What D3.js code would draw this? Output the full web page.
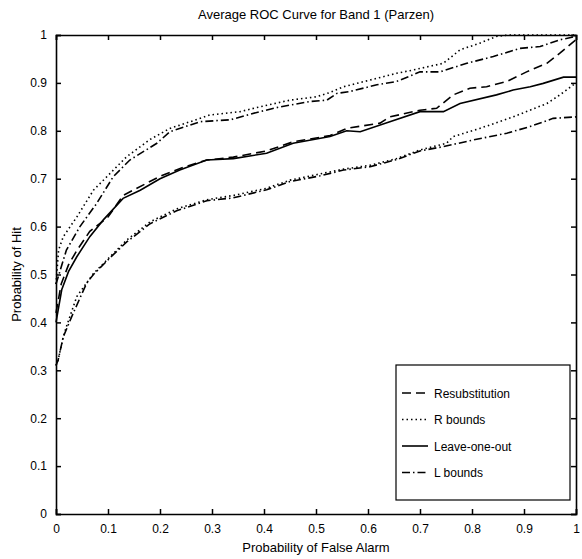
<!DOCTYPE html>
<html lang="en">
<head>
  <meta charset="UTF-8">
  <title>Average ROC Curve for Band 1 (Parzen)</title>
  <script src="https://d3js.org/d3.v7.min.js"></script>
  <style>
    body { margin: 0; background: #fff; }
    svg { display: block; font-family: "Liberation Sans", Arial, sans-serif; }
    .tick text { font-size: 12px; }
  </style>
</head>
<body>
  <svg width="582" height="559"></svg>
  <script>
    // [false alarm, hit] pairs
    const resubstitution = [[0,0.42],[0.01,0.48],[0.024,0.52],[0.04,0.55],[0.065,0.59],[0.1,0.62],[0.129,0.665],[0.15,0.677],[0.2,0.705],[0.24,0.722],[0.29,0.739],[0.341,0.745],[0.405,0.758],[0.456,0.777],[0.527,0.79],[0.559,0.805],[0.623,0.816],[0.642,0.829],[0.70,0.843],[0.732,0.847],[0.764,0.875],[0.796,0.889],[0.828,0.892],[0.867,0.903],[0.905,0.923],[0.944,0.941],[0.969,0.962],[1.0,0.99]];
    const rBoundsUpper = [[0,0.48],[0.005,0.551],[0.014,0.579],[0.04,0.62],[0.072,0.676],[0.104,0.711],[0.136,0.746],[0.181,0.782],[0.219,0.805],[0.258,0.819],[0.296,0.833],[0.354,0.84],[0.392,0.85],[0.45,0.864],[0.501,0.871],[0.527,0.88],[0.553,0.892],[0.604,0.906],[0.655,0.92],[0.687,0.927],[0.745,0.941],[0.777,0.969],[0.815,0.983],[0.847,0.997],[0.87,1.0],[1.0,1.0]];
    const rBoundsLower = [[0,0.31],[0.004,0.321],[0.014,0.37],[0.02,0.391],[0.04,0.454],[0.072,0.502],[0.104,0.537],[0.136,0.572],[0.181,0.61],[0.232,0.637],[0.29,0.656],[0.341,0.665],[0.405,0.68],[0.45,0.697],[0.508,0.71],[0.553,0.72],[0.604,0.728],[0.655,0.742],[0.70,0.76],[0.751,0.774],[0.764,0.788],[0.815,0.805],[0.879,0.829],[0.944,0.857],[0.969,0.875],[1.0,0.90]];
    const leaveOneOut = [[0,0.40],[0.011,0.468],[0.024,0.506],[0.04,0.537],[0.065,0.579],[0.091,0.614],[0.129,0.659],[0.162,0.676],[0.2,0.70],[0.238,0.718],[0.29,0.739],[0.341,0.742],[0.405,0.753],[0.456,0.774],[0.527,0.788],[0.559,0.80],[0.585,0.798],[0.642,0.819],[0.70,0.840],[0.745,0.840],[0.777,0.857],[0.847,0.875],[0.879,0.885],[0.912,0.892],[0.937,0.899],[0.976,0.912],[1.0,0.912]];
    const lBoundsUpper = [[0,0.48],[0.02,0.551],[0.046,0.60],[0.078,0.648],[0.11,0.704],[0.142,0.739],[0.194,0.774],[0.219,0.798],[0.277,0.819],[0.335,0.823],[0.392,0.84],[0.431,0.85],[0.488,0.861],[0.521,0.864],[0.54,0.878],[0.565,0.882],[0.617,0.896],[0.655,0.903],[0.70,0.923],[0.738,0.923],[0.79,0.941],[0.841,0.955],[0.892,0.972],[0.931,0.976],[0.969,0.99],[1.0,0.997]];
    const lBoundsLower = [[0,0.31],[0.004,0.321],[0.014,0.37],[0.033,0.419],[0.059,0.482],[0.072,0.50],[0.104,0.535],[0.136,0.568],[0.181,0.606],[0.232,0.633],[0.29,0.654],[0.341,0.66],[0.405,0.677],[0.45,0.694],[0.508,0.706],[0.553,0.718],[0.604,0.725],[0.655,0.74],[0.70,0.758],[0.745,0.767],[0.803,0.781],[0.867,0.795],[0.912,0.809],[0.956,0.826],[1.0,0.829]];

    const tickValues = [0, 0.1, 0.2, 0.3, 0.4, 0.5, 0.6, 0.7, 0.8, 0.9, 1];
    const legendLabels = ["Resubstitution", "R bounds", "Leave-one-out", "L bounds"];

    const dashes = {
      dashed: "9,5",
      dotted: "1.5,3",
      solid: null,
      dashdot: "8,3,1.5,3"
    };

    const series = [
      { data: resubstitution, style: "dashed" },
      { data: rBoundsUpper, style: "dotted" },
      { data: rBoundsLower, style: "dotted" },
      { data: leaveOneOut, style: "solid" },
      { data: lBoundsUpper, style: "dashdot" },
      { data: lBoundsLower, style: "dashdot" }
    ];
    const legendStyles = ["dashed", "dotted", "solid", "dashdot"];

    const svg = d3.select("svg");
    const margin = { left: 56, right: 6, top: 35, bottom: 45 };
    const W = 582, H = 559;

    const x = d3.scaleLinear().domain([0, 1]).range([margin.left, W - margin.right]);
    const y = d3.scaleLinear().domain([0, 1]).range([H - margin.bottom, margin.top]);

    const fmt = d => d === 0 ? "0" : d === 1 ? "1" : d3.format(".1f")(d);

    // curves
    const line = d3.line().x(d => x(d[0])).y(d => y(d[1]));
    svg.append("g").selectAll("path")
      .data(series)
      .join("path")
      .attr("d", d => line(d.data))
      .attr("fill", "none")
      .attr("stroke", "#000")
      .attr("stroke-width", 1.6)
      .attr("stroke-dasharray", d => dashes[d.style]);

    // axes, ticks inward like matlab
    const bottom = svg.append("g").attr("transform", `translate(0,${y(0)})`)
      .call(d3.axisBottom(x).tickValues(tickValues).tickFormat(fmt).tickSize(-5).tickPadding(10));
    const left = svg.append("g").attr("transform", `translate(${x(0)},0)`)
      .call(d3.axisLeft(y).tickValues(tickValues).tickFormat(fmt).tickSize(-5).tickPadding(9));
    svg.append("g").attr("transform", `translate(0,${y(1)})`)
      .call(d3.axisTop(x).tickValues(tickValues).tickFormat("").tickSize(-5));
    svg.append("g").attr("transform", `translate(${x(1)},0)`)
      .call(d3.axisRight(y).tickValues(tickValues).tickFormat("").tickSize(-5));

    svg.selectAll(".domain").attr("stroke", "#000").attr("stroke-width", 1.6);
    svg.selectAll(".tick line").attr("stroke", "#000").attr("stroke-width", 1.5);
    svg.selectAll(".tick text").attr("fill", "#000");

    // legend
    const lg = svg.append("g");
    lg.append("rect")
      .attr("x", 396).attr("y", 365).attr("width", 174).attr("height", 135)
      .attr("fill", "#fff").attr("stroke", "#000").attr("stroke-width", 1.2);
    legendLabels.forEach((lab, i) => {
      const yy = 393 + i * 26.5;
      lg.append("line")
        .attr("x1", 402).attr("x2", 428).attr("y1", yy).attr("y2", yy)
        .attr("stroke", "#000").attr("stroke-width", 1.6)
        .attr("stroke-dasharray", dashes[legendStyles[i]]);
      lg.append("text")
        .attr("x", 434).attr("y", yy + 4.5)
        .attr("font-size", "12px")
        .text(lab);
    });

    // title and labels
    svg.append("text")
      .attr("x", 316).attr("y", 19)
      .attr("text-anchor", "middle")
      .attr("font-size", "13px")
      .text("Average ROC Curve for Band 1 (Parzen)");
    svg.append("text")
      .attr("x", 316).attr("y", 552)
      .attr("text-anchor", "middle")
      .attr("font-size", "13px")
      .text("Probability of False Alarm");
    svg.append("text")
      .attr("transform", `translate(21,${(y(0) + y(1)) / 2}) rotate(-90)`)
      .attr("text-anchor", "middle")
      .attr("font-size", "13px")
      .text("Probability of Hit");
  </script>
</body>
</html>
